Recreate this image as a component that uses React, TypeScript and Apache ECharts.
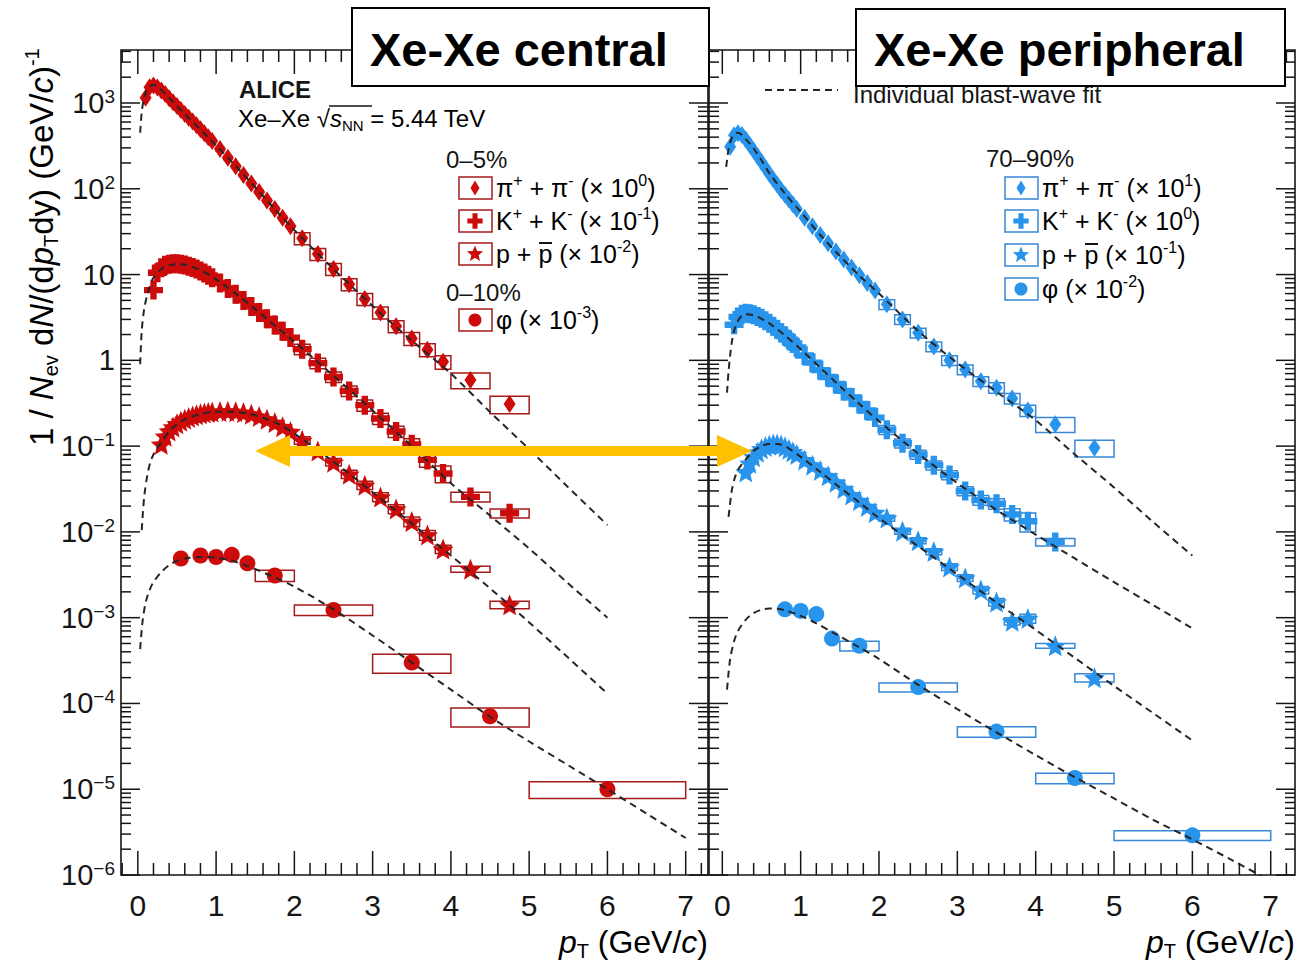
import React, { useEffect, useRef } from "react";
import * as echarts from "echarts";

// Identified-hadron pT spectra in Xe–Xe collisions at 5.44 TeV (scaled as in legend).
// Rows: [pT (GeV/c), 1/Nev dN/(dpT dy), relative systematic uncertainty]

// ---- central (0–5 %, phi 0–10 %) ----
const PION_CENTRAL: number[][] = [
  [0.1, 1150, 0.04], [0.15, 1530, 0.04], [0.2, 1600, 0.04], [0.25, 1520, 0.04], [0.3, 1400, 0.04],
  [0.35, 1270, 0.04], [0.4, 1140, 0.04], [0.45, 1020, 0.04], [0.5, 920, 0.04], [0.55, 830, 0.04],
  [0.6, 745, 0.04], [0.65, 675, 0.04], [0.7, 610, 0.04], [0.75, 550, 0.04], [0.8, 495, 0.04],
  [0.85, 445, 0.04], [0.9, 400, 0.04], [0.95, 360, 0.04], [1.05, 290, 0.05], [1.15, 230, 0.05],
  [1.25, 183, 0.05], [1.35, 145, 0.05], [1.45, 115, 0.05], [1.55, 92, 0.05], [1.65, 73, 0.05],
  [1.75, 58, 0.05], [1.85, 46, 0.05], [1.95, 36.5, 0.05], [2.1, 26.5, 0.16], [2.3, 17.4, 0.16],
  [2.5, 11.6, 0.16], [2.7, 7.7, 0.16], [2.9, 5.2, 0.16], [3.1, 3.6, 0.16], [3.3, 2.5, 0.16],
  [3.5, 1.8, 0.17], [3.7, 1.33, 0.17], [3.9, 0.96, 0.18], [4.25, 0.59, 0.21], [4.75, 0.31, 0.23],
];
const KAON_CENTRAL: number[][] = [
  [0.2, 6.6, 0.06], [0.25, 10.5, 0.05], [0.3, 12.0, 0.04], [0.35, 12.8, 0.04], [0.4, 13.2, 0.04],
  [0.45, 13.4, 0.04], [0.5, 13.4, 0.04], [0.55, 13.2, 0.04], [0.6, 12.9, 0.04], [0.65, 12.5, 0.04],
  [0.7, 12.1, 0.04], [0.75, 11.6, 0.04], [0.8, 11.0, 0.04], [0.85, 10.4, 0.04], [0.9, 9.8, 0.04],
  [0.95, 9.2, 0.04], [1.05, 8.0, 0.05], [1.15, 6.9, 0.05], [1.25, 5.9, 0.05], [1.35, 5.0, 0.05],
  [1.45, 4.25, 0.05], [1.55, 3.6, 0.05], [1.65, 3.05, 0.05], [1.75, 2.58, 0.05], [1.85, 2.18, 0.05],
  [1.95, 1.84, 0.05], [2.1, 1.35, 0.14], [2.3, 0.93, 0.14], [2.5, 0.64, 0.14], [2.7, 0.44, 0.14],
  [2.9, 0.3, 0.15], [3.1, 0.21, 0.15], [3.3, 0.148, 0.15], [3.5, 0.105, 0.16], [3.7, 0.069, 0.18],
  [3.9, 0.048, 0.22], [4.25, 0.0256, 0.13], [4.75, 0.0165, 0.12],
];
const PROTON_CENTRAL: number[][] = [
  [0.3, 0.105, 0.1], [0.35, 0.13, 0.05], [0.4, 0.15, 0.04], [0.45, 0.167, 0.04], [0.5, 0.182, 0.04],
  [0.55, 0.195, 0.04], [0.6, 0.206, 0.04], [0.65, 0.216, 0.04], [0.7, 0.225, 0.04], [0.75, 0.232, 0.04],
  [0.8, 0.238, 0.04], [0.85, 0.243, 0.04], [0.9, 0.247, 0.04], [0.95, 0.25, 0.04], [1.05, 0.254, 0.05],
  [1.15, 0.255, 0.05], [1.25, 0.252, 0.05], [1.35, 0.246, 0.05], [1.45, 0.236, 0.05], [1.55, 0.222, 0.05],
  [1.65, 0.206, 0.05], [1.75, 0.188, 0.05], [1.85, 0.168, 0.05], [1.95, 0.148, 0.05], [2.1, 0.117, 0.1],
  [2.3, 0.088, 0.1], [2.5, 0.065, 0.1], [2.7, 0.047, 0.11], [2.9, 0.035, 0.11], [3.1, 0.0255, 0.12],
  [3.3, 0.0185, 0.12], [3.5, 0.0132, 0.13], [3.7, 0.0092, 0.13], [3.9, 0.0063, 0.11],
  [4.25, 0.00367, 0.08], [4.75, 0.00141, 0.1],
];
// phi rows: [pT, yield, half bin width, relative systematic uncertainty]
const PHI_CENTRAL: number[][] = [
  [0.55, 0.0049, 0.06, 0.05], [0.8, 0.0053, 0.06, 0.05], [1.0, 0.0051, 0.06, 0.05],
  [1.2, 0.0054, 0.06, 0.05], [1.4, 0.0043, 0.06, 0.05], [1.75, 0.0031, 0.25, 0.15],
  [2.5, 0.00123, 0.5, 0.14], [3.5, 0.0003, 0.5, 0.25], [4.5, 7.1e-5, 0.5, 0.25], [6.0, 1.0e-5, 1.0, 0.22],
];

// ---- peripheral (70–90 %) ----
const PION_PERIPH: number[][] = [
  [0.1, 310, 0.04], [0.15, 420, 0.04], [0.2, 445, 0.04], [0.25, 425, 0.04], [0.3, 375, 0.04],
  [0.35, 325, 0.04], [0.4, 280, 0.04], [0.45, 240, 0.04], [0.5, 205, 0.04], [0.55, 175, 0.04],
  [0.6, 150, 0.04], [0.65, 129, 0.04], [0.7, 112, 0.04], [0.75, 97, 0.04], [0.8, 85, 0.04],
  [0.85, 75, 0.04], [0.9, 66, 0.04], [0.95, 58, 0.04], [1.05, 46, 0.05], [1.15, 36.5, 0.05],
  [1.25, 29, 0.05], [1.35, 23.2, 0.05], [1.45, 18.6, 0.05], [1.55, 15, 0.05], [1.65, 12.1, 0.05],
  [1.75, 9.8, 0.05], [1.85, 8.0, 0.05], [1.95, 6.5, 0.05], [2.1, 4.5, 0.13], [2.3, 3.0, 0.13],
  [2.5, 2.1, 0.13], [2.7, 1.45, 0.13], [2.9, 1.0, 0.13], [3.1, 0.78, 0.13], [3.3, 0.57, 0.13],
  [3.5, 0.48, 0.14], [3.7, 0.36, 0.14], [3.9, 0.26, 0.15], [4.25, 0.18, 0.2], [4.75, 0.096, 0.22],
];
const KAON_PERIPH: number[][] = [
  [0.15, 2.6, 0.05], [0.2, 3.2, 0.04], [0.25, 3.45, 0.04], [0.3, 3.55, 0.04], [0.35, 3.5, 0.04],
  [0.4, 3.4, 0.04], [0.45, 3.25, 0.04], [0.5, 3.1, 0.04], [0.55, 2.9, 0.04], [0.6, 2.7, 0.04],
  [0.65, 2.5, 0.04], [0.7, 2.3, 0.04], [0.75, 2.1, 0.04], [0.8, 1.92, 0.04], [0.85, 1.74, 0.04],
  [0.9, 1.57, 0.04], [0.95, 1.41, 0.04], [1.05, 1.14, 0.05], [1.15, 0.94, 0.05], [1.25, 0.77, 0.05],
  [1.35, 0.64, 0.05], [1.45, 0.53, 0.05], [1.55, 0.44, 0.05], [1.65, 0.37, 0.05], [1.75, 0.31, 0.05],
  [1.85, 0.26, 0.05], [1.95, 0.215, 0.05], [2.1, 0.155, 0.12], [2.3, 0.108, 0.12], [2.5, 0.08, 0.12],
  [2.7, 0.06, 0.12], [2.9, 0.046, 0.12], [3.1, 0.03, 0.12], [3.3, 0.0235, 0.13], [3.5, 0.0213, 0.14],
  [3.7, 0.016, 0.16], [3.9, 0.0133, 0.25], [4.25, 0.0076, 0.1],
];
const PROTON_PERIPH: number[][] = [
  [0.3, 0.05, 0.08], [0.35, 0.063, 0.05], [0.4, 0.075, 0.04], [0.45, 0.085, 0.04], [0.5, 0.093, 0.04],
  [0.55, 0.099, 0.04], [0.6, 0.103, 0.04], [0.65, 0.106, 0.04], [0.7, 0.106, 0.04], [0.75, 0.103, 0.04],
  [0.8, 0.098, 0.04], [0.85, 0.092, 0.04], [0.9, 0.086, 0.04], [0.95, 0.08, 0.04], [1.05, 0.069, 0.05],
  [1.15, 0.06, 0.05], [1.25, 0.052, 0.05], [1.35, 0.045, 0.05], [1.45, 0.038, 0.05], [1.55, 0.032, 0.05],
  [1.65, 0.027, 0.05], [1.75, 0.0232, 0.05], [1.85, 0.0198, 0.05], [1.95, 0.0168, 0.05], [2.1, 0.0145, 0.08],
  [2.3, 0.0102, 0.08], [2.5, 0.0079, 0.08], [2.7, 0.0059, 0.08], [2.9, 0.0039, 0.09], [3.1, 0.0029, 0.09],
  [3.3, 0.0021, 0.1], [3.5, 0.00152, 0.1], [3.7, 0.00091, 0.1], [3.9, 0.00098, 0.12],
  [4.25, 0.00047, 0.065], [4.75, 0.0002, 0.11],
];
const PHI_PERIPH: number[][] = [
  [0.8, 1.25e-3, 0.06, 0.05], [1.0, 1.2e-3, 0.06, 0.05], [1.2, 1.1e-3, 0.06, 0.05],
  [1.4, 5.7e-4, 0.06, 0.08], [1.75, 4.7e-4, 0.25, 0.13], [2.5, 1.55e-4, 0.5, 0.12],
  [3.5, 4.7e-5, 0.5, 0.14], [4.5, 1.35e-5, 0.5, 0.14], [6.0, 2.9e-6, 1.0, 0.13],
];

// ---- individual blast-wave fits: [pT, yield] ----
const FIT_PION_CENTRAL: number[][] = [
  [0.03, 450], [0.05, 780], [0.08, 1150], [0.12, 1450], [0.16, 1580], [0.2, 1620], [0.3, 1420],
  [0.4, 1150], [0.5, 920], [0.6, 740], [0.8, 490], [1.0, 320], [1.25, 185], [1.5, 104], [1.75, 58],
  [2.0, 33], [2.5, 11.6], [3.0, 4.3], [3.5, 1.7], [4.0, 0.7], [4.5, 0.25], [5.0, 0.092], [5.5, 0.033], [6.0, 0.012],
];
const FIT_KAON_CENTRAL: number[][] = [
  [0.03, 0.9], [0.05, 2.2], [0.08, 3.9], [0.12, 5.8], [0.16, 7.6], [0.2, 9.2], [0.3, 11.6], [0.4, 12.8],
  [0.5, 13.2], [0.6, 13.0], [0.8, 11.3], [1.0, 8.8], [1.25, 6.0], [1.5, 3.95], [1.75, 2.55], [2.0, 1.65],
  [2.5, 0.66], [3.0, 0.26], [3.5, 0.1], [4.0, 0.037], [4.5, 0.0155], [5.0, 0.0064], [5.5, 0.0025], [6.0, 0.001],
];
const FIT_PROTON_CENTRAL: number[][] = [
  [0.05, 0.0105], [0.08, 0.025], [0.12, 0.045], [0.16, 0.065], [0.2, 0.08], [0.25, 0.095], [0.3, 0.11],
  [0.4, 0.148], [0.5, 0.18], [0.6, 0.205], [0.8, 0.237], [1.0, 0.252], [1.2, 0.252], [1.4, 0.24],
  [1.6, 0.214], [1.8, 0.18], [2.0, 0.14], [2.5, 0.066], [3.0, 0.029], [3.5, 0.0125], [4.0, 0.0053],
  [4.5, 0.0022], [5.0, 0.00088], [5.5, 0.00034], [6.0, 0.00013],
];
const FIT_PHI_CENTRAL: number[][] = [
  [0.03, 4.3e-4], [0.06, 9e-4], [0.1, 1.5e-3], [0.15, 2.1e-3], [0.2, 2.6e-3], [0.3, 3.4e-3],
  [0.4, 4.1e-3], [0.5, 4.6e-3], [0.6, 4.9e-3], [0.8, 5.1e-3], [1.0, 5.0e-3], [1.2, 4.6e-3],
  [1.4, 4.0e-3], [1.75, 2.95e-3], [2.0, 2.3e-3], [2.5, 1.25e-3], [3.0, 6.2e-4], [3.5, 3.0e-4],
  [4.0, 1.45e-4], [4.5, 7.0e-5], [5.0, 3.6e-5], [5.5, 1.9e-5], [6.0, 1.0e-5], [6.5, 5.2e-6], [7.0, 2.7e-6],
];
const FIT_PION_PERIPH: number[][] = [
  [0.05, 180], [0.08, 290], [0.12, 390], [0.16, 440], [0.2, 450], [0.25, 425], [0.3, 380], [0.4, 295],
  [0.5, 215], [0.6, 152], [0.8, 88], [1.0, 54], [1.25, 29], [1.5, 16.5], [1.75, 9.7], [2.0, 6.0],
  [2.5, 2.2], [3.0, 0.93], [3.5, 0.43], [4.0, 0.2], [4.5, 0.08], [5.0, 0.033], [5.5, 0.013], [6.0, 0.0053],
];
const FIT_KAON_PERIPH: number[][] = [
  [0.06, 0.42], [0.08, 0.75], [0.1, 1.15], [0.12, 1.6], [0.15, 2.2], [0.2, 2.9], [0.25, 3.3], [0.3, 3.45],
  [0.4, 3.35], [0.5, 3.05], [0.6, 2.7], [0.8, 1.95], [1.0, 1.35], [1.25, 0.82], [1.5, 0.5], [1.75, 0.31],
  [2.0, 0.195], [2.5, 0.082], [3.0, 0.037], [3.5, 0.018], [4.0, 0.0093], [4.5, 0.0049], [5.0, 0.0026],
  [5.5, 0.0014], [6.0, 0.00075],
];
const FIT_PROTON_PERIPH: number[][] = [
  [0.08, 0.015], [0.12, 0.03], [0.16, 0.043], [0.2, 0.053], [0.3, 0.07], [0.4, 0.088], [0.5, 0.1],
  [0.6, 0.106], [0.7, 0.106], [0.8, 0.1], [1.0, 0.075], [1.25, 0.05], [1.5, 0.033], [1.75, 0.022],
  [2.0, 0.0145], [2.5, 0.0068], [3.0, 0.0032], [3.5, 0.0015], [4.0, 0.00072], [4.5, 0.00034],
  [5.0, 0.00016], [5.5, 0.000077], [6.0, 0.000037],
];
const FIT_PHI_PERIPH: number[][] = [
  [0.06, 1.45e-4], [0.1, 3.3e-4], [0.15, 5.3e-4], [0.2, 7e-4], [0.3, 9.5e-4], [0.4, 1.13e-3],
  [0.5, 1.24e-3], [0.6, 1.28e-3], [0.7, 1.27e-3], [0.8, 1.22e-3], [1.0, 1.05e-3], [1.2, 8.6e-4],
  [1.4, 6.8e-4], [1.75, 4.5e-4], [2.0, 3.3e-4], [2.5, 1.65e-4], [3.0, 8.6e-5], [3.5, 4.6e-5],
  [4.0, 2.5e-5], [4.5, 1.38e-5], [5.0, 7.8e-6], [5.5, 4.4e-6], [6.0, 2.6e-6], [6.5, 1.5e-6], [7.0, 8.5e-7],
];

// ---- axes ----
const X_RANGE_LEFT = [-0.215, 7.285];
const X_RANGE_RIGHT = [-0.17, 7.31];
const Y_MIN = 1e-6;
const Y_MAX = Math.pow(10, 3.618);
const X_LABELS = [0, 1, 2, 3, 4, 5, 6, 7];
const Y_DECADES = [-6, -5, -4, -3, -2, -1, 0, 1, 2, 3];

const FONT = "'Liberation Sans', Arial, Helvetica, sans-serif";
const INK = "#151515";
const RED = "#cc0b0b";
const RED_BOX = "#a51a1a";
const BLUE = "#2994ec";
const BLUE_BOX = "#3788d6";
const FIT_INK = "#262626";
const ORANGE = "#ffc000";

// marker outlines (unit coordinates)
const CROSS_PTS = [[-3, -9], [3, -9], [3, -3], [9, -3], [9, 3], [3, 3], [3, 9], [-3, 9], [-3, 3], [-9, 3], [-9, -3], [-3, -3]];
const STAR_PTS = [[0, -10], [2.6, -3.6], [9.51, -3.09], [4.3, 1.4], [5.88, 8.09], [0, 4.5], [-5.88, 8.09], [-4.3, 1.4], [-9.51, -3.09], [-2.6, -3.6]];
const DIAMOND_PTS = [[0, -7.5], [4.5, 0], [0, 7.5], [-4.5, 0]];
const toPath = (pts: number[][]) => "path://M" + pts.map((p) => p[0] + "," + p[1]).join("L") + "Z";

const binHalfWidth = (pt: number) => (pt < 1 ? 0.025 : pt < 2 ? 0.05 : pt < 4 ? 0.1 : 0.25);

type Species = { data: number[][]; fit: number[][]; marker: string; size: number | number[]; phi?: boolean };

function boxSeries(rows: number[][], axis: number, color: string, phi: boolean) {
  return {
    type: "custom",
    xAxisIndex: axis,
    yAxisIndex: axis,
    silent: true,
    z: 3,
    encode: { x: 0, y: 1 },
    data: rows.map((r) => (phi ? [r[0], r[1], r[2], r[3]] : [r[0], r[1], binHalfWidth(r[0]), r[2]])),
    renderItem: (_p: any, api: any) => {
      const x = api.value(0), y = api.value(1), hw = api.value(2), s = api.value(3);
      const a = api.coord([x - hw, y * (1 + s)]);
      const b = api.coord([x + hw, y * (1 - s)]);
      return {
        type: "rect",
        shape: { x: a[0], y: a[1], width: b[0] - a[0], height: b[1] - a[1] },
        style: { fill: "none", stroke: color, lineWidth: 1.5 },
      };
    },
  };
}

function markerSeries(rows: number[][], axis: number, color: string, symbol: string, size: any) {
  return {
    type: "scatter",
    xAxisIndex: axis,
    yAxisIndex: axis,
    silent: true,
    z: 4,
    symbol,
    symbolSize: size,
    itemStyle: { color, opacity: 1 },
    data: rows.map((r) => [r[0], r[1]]),
  };
}

function fitSeries(rows: number[][], axis: number) {
  return {
    type: "line",
    xAxisIndex: axis,
    yAxisIndex: axis,
    silent: true,
    z: 6,
    smooth: 0.3,
    showSymbol: false,
    symbol: "none",
    clip: true,
    lineStyle: { color: FIT_INK, width: 2, type: [7, 5] },
    data: rows,
  };
}

function frameTicks(axis: number, xr: number[]) {
  return {
    type: "custom",
    xAxisIndex: axis,
    yAxisIndex: axis,
    silent: true,
    z: 8,
    data: [[1, 1]],
    renderItem: (params: any, api: any) => {
      const cs = params.coordSys;
      const L = cs.x, T = cs.y, R = cs.x + cs.width, B = cs.y + cs.height;
      const kids: any[] = [];
      const seg = (x1: number, y1: number, x2: number, y2: number) =>
        kids.push({ type: "line", shape: { x1, y1, x2, y2 }, style: { stroke: INK, lineWidth: 1.5 } });
      for (let i = -1; i <= 8; i++) {
        for (let k = 0; k < 5; k++) {
          const v = i + k * 0.2;
          if (v <= xr[0] + 0.01 || v >= xr[1] - 0.01) continue;
          const px = api.coord([v, 1])[0];
          const len = k === 0 ? 24 : 12;
          seg(px, B, px, B - len);
          seg(px, T, px, T + len);
        }
      }
      for (const e of Y_DECADES) {
        for (let m = 1; m <= 9; m++) {
          const v = m * Math.pow(10, e);
          if (v >= Y_MAX) continue;
          const py = api.coord([1, v])[1];
          const len = m === 1 ? 19 : 10;
          seg(L, py, L + len, py);
          seg(R, py, R - len, py);
        }
      }
      return { type: "group", children: kids };
    },
  };
}

const yLabel = (v: number) => {
  const l = Math.log10(v);
  const e = Math.round(l);
  if (Math.abs(l - e) > 1e-6) return "";
  if (e === 0) return "{b|1}";
  if (e === 1) return "{b|10}";
  return "{b|10}{e|" + (e < 0 ? "\u2212" + -e : String(e)) + "}";
};

const richText = (size: number) => ({
  t: { fontSize: size, fontFamily: FONT, color: INK, lineHeight: size + 6 },
  i: { fontSize: size, fontFamily: FONT, color: INK, fontStyle: "italic", lineHeight: size + 6 },
  s: { fontSize: Math.round(size * 0.62), fontFamily: FONT, color: INK, verticalAlign: "top", lineHeight: Math.round(size * 0.62) },
  d: { fontSize: Math.round(size * 0.62), fontFamily: FONT, color: INK, verticalAlign: "bottom", lineHeight: Math.round(size * 0.62) },
});

function legendRow(x: number, y: number, boxColor: string, fill: string, shape: string, label: string, barAt?: number) {
  const cx = x + 16, w = 33, h = 22;
  const items: any[] = [
    { type: "rect", shape: { x, y: y - h / 2, width: w, height: h }, style: { fill: "none", stroke: boxColor, lineWidth: 1.5 } },
  ];
  const poly = (pts: number[][], sc: number) =>
    items.push({ type: "polygon", shape: { points: pts.map((p) => [cx + p[0] * sc, y + p[1] * sc]) }, style: { fill } });
  if (shape === "diamond") poly(DIAMOND_PTS, 1);
  if (shape === "cross") poly(CROSS_PTS, 0.85);
  if (shape === "star") poly(STAR_PTS, 0.85);
  if (shape === "circle") items.push({ type: "circle", shape: { cx, cy: y, r: 6.5 }, style: { fill } });
  items.push({
    type: "text",
    x: x + w + 4,
    y,
    style: { text: label, rich: richText(25), verticalAlign: "middle", align: "left" },
  });
  if (barAt !== undefined) {
    items.push({ type: "line", shape: { x1: x + w + 4 + barAt, y1: y - 11, x2: x + w + 4 + barAt + 13, y2: y - 11 }, style: { stroke: INK, lineWidth: 2 } });
  }
  return items;
}

function buildOption() {
  const panels = [
    {
      xr: X_RANGE_LEFT, color: RED, box: RED_BOX,
      species: [
        { data: PION_CENTRAL, fit: FIT_PION_CENTRAL, marker: toPath(DIAMOND_PTS), size: [12, 18] },
        { data: KAON_CENTRAL, fit: FIT_KAON_CENTRAL, marker: toPath(CROSS_PTS), size: 19 },
        { data: PROTON_CENTRAL, fit: FIT_PROTON_CENTRAL, marker: toPath(STAR_PTS), size: 21 },
        { data: PHI_CENTRAL, fit: FIT_PHI_CENTRAL, marker: "circle", size: 16, phi: true },
      ] as Species[],
    },
    {
      xr: X_RANGE_RIGHT, color: BLUE, box: BLUE_BOX,
      species: [
        { data: PION_PERIPH, fit: FIT_PION_PERIPH, marker: toPath(DIAMOND_PTS), size: [12, 18] },
        { data: KAON_PERIPH, fit: FIT_KAON_PERIPH, marker: toPath(CROSS_PTS), size: 19 },
        { data: PROTON_PERIPH, fit: FIT_PROTON_PERIPH, marker: toPath(STAR_PTS), size: 21 },
        { data: PHI_PERIPH, fit: FIT_PHI_PERIPH, marker: "circle", size: 16, phi: true },
      ] as Species[],
    },
  ];

  const series: any[] = [];
  panels.forEach((p, ai) => {
    p.species.forEach((s) => {
      series.push(boxSeries(s.data, ai, p.box, !!s.phi));
      series.push(markerSeries(s.data, ai, p.color, s.marker, s.size));
      series.push(fitSeries(s.fit, ai));
    });
    series.push(frameTicks(ai, p.xr));
  });

  const grid = [
    { left: 121, top: 50, width: 587, height: 825, show: true, borderColor: INK, borderWidth: 1.6, backgroundColor: "transparent" },
    { left: 709, top: 50, width: 586, height: 825, show: true, borderColor: INK, borderWidth: 1.6, backgroundColor: "transparent" },
  ];
  const xAxis = panels.map((p, i) => ({
    type: "value",
    gridIndex: i,
    min: p.xr[0],
    max: p.xr[1],
    axisLine: { show: false },
    axisTick: { show: false },
    splitLine: { show: false },
    axisLabel: { customValues: X_LABELS, fontSize: 30, fontFamily: FONT, color: INK, margin: 15 },
  }));
  const yAxis = panels.map((_p, i) => ({
    type: "log",
    logBase: 10,
    gridIndex: i,
    min: Y_MIN,
    max: Y_MAX,
    axisLine: { show: false },
    axisTick: { show: false },
    splitLine: { show: false },
    minorTick: { show: false },
    axisLabel: {
      show: i === 0,
      formatter: yLabel,
      margin: 6,
      showMaxLabel: false,
      rich: {
        b: { fontSize: 29, fontFamily: FONT, color: INK, lineHeight: 32 },
        e: { fontSize: 19, fontFamily: FONT, color: INK, lineHeight: 19, verticalAlign: "top" },
      },
    },
  }));

  const graphic: any[] = [
    // y-axis title
    {
      type: "text", x: 41, y: 446, rotation: Math.PI / 2, z: 20,
      style: {
        text: "{t|1 / }{i|N}{d|ev}{t| d}{i|N}{t|/(d}{i|p}{d|T}{t|dy) (GeV/}{i|c}{t|)}{s|-1}",
        rich: richText(33), align: "left", verticalAlign: "middle",
      },
    },
    // x-axis titles
    ...[708, 1295].map((xr) => ({
      type: "text", x: xr, y: 942, z: 20,
      style: { text: "{i|p}{d|T}{t| (GeV/}{i|c}{t|)}", rich: richText(32), align: "right", verticalAlign: "middle" },
    })),
    // experiment label
    { type: "text", x: 239, y: 89, z: 20, style: { text: "ALICE", font: `bold 24px ${FONT}`, fill: INK, verticalAlign: "middle" } },
    {
      type: "text", x: 238, y: 118, z: 20,
      style: { text: "{t|Xe\u2013Xe \u221A}{i|s}{d|NN}{t| = 5.44 TeV}", rich: richText(24), verticalAlign: "middle" },
    },
    { type: "line", z: 20, shape: { x1: 329, y1: 106, x2: 372, y2: 106 }, style: { stroke: INK, lineWidth: 1.5 } },
    // centrality labels and legend entries
    { type: "text", x: 446, y: 159, z: 20, style: { text: "0\u20135%", font: `24px ${FONT}`, fill: INK, verticalAlign: "middle" } },
    { type: "text", x: 446, y: 292, z: 20, style: { text: "0\u201310%", font: `24px ${FONT}`, fill: INK, verticalAlign: "middle" } },
    { type: "text", x: 986, y: 158, z: 20, style: { text: "70\u201390%", font: `24px ${FONT}`, fill: INK, verticalAlign: "middle" } },
    ...legendRow(459, 188, RED_BOX, RED, "diamond", "{t|\u03C0}{s|+}{t| + \u03C0}{s|-}{t| (\u00D7 10}{s|0}{t|)}"),
    ...legendRow(459, 221, RED_BOX, RED, "cross", "{t|K}{s|+}{t| + K}{s|-}{t| (\u00D7 10}{s|-1}{t|)}"),
    ...legendRow(459, 254, RED_BOX, RED, "star", "{t|p + p (\u00D7 10}{s|-2}{t|)}", 43),
    ...legendRow(459, 320, RED_BOX, RED, "circle", "{t|\u03C6 (\u00D7 10}{s|-3}{t|)}"),
    ...legendRow(1005, 188, BLUE_BOX, BLUE, "diamond", "{t|\u03C0}{s|+}{t| + \u03C0}{s|-}{t| (\u00D7 10}{s|1}{t|)}"),
    ...legendRow(1005, 221, BLUE_BOX, BLUE, "cross", "{t|K}{s|+}{t| + K}{s|-}{t| (\u00D7 10}{s|0}{t|)}"),
    ...legendRow(1005, 255, BLUE_BOX, BLUE, "star", "{t|p + p (\u00D7 10}{s|-1}{t|)}", 43),
    ...legendRow(1005, 289, BLUE_BOX, BLUE, "circle", "{t|\u03C6 (\u00D7 10}{s|-2}{t|)}"),
    // fit legend
    { type: "line", z: 20, shape: { x1: 765, y1: 90, x2: 838, y2: 90 }, style: { stroke: FIT_INK, lineWidth: 2, lineDash: [7, 5] } },
    { type: "text", x: 853, y: 94, z: 20, style: { text: "Individual blast-wave fit", font: `24px ${FONT}`, fill: INK, verticalAlign: "middle" } },
    // double arrow between panels
    {
      type: "polygon", z: 40,
      shape: { points: [[255, 451], [290, 435], [290, 446], [717, 446], [717, 435], [752, 451], [717, 467], [717, 456], [290, 456], [290, 467]] },
      style: { fill: ORANGE },
    },
    // panel titles
    { type: "rect", z: 50, shape: { x: 352, y: 8, width: 357, height: 78 }, style: { fill: "#fff", stroke: "#000", lineWidth: 2 } },
    { type: "text", z: 51, x: 370, y: 49, style: { text: "Xe-Xe central", font: `bold 47px ${FONT}`, fill: "#000", verticalAlign: "middle" } },
    { type: "rect", z: 50, shape: { x: 856, y: 9, width: 429, height: 77 }, style: { fill: "#fff", stroke: "#000", lineWidth: 2 } },
    { type: "text", z: 51, x: 874, y: 49, style: { text: "Xe-Xe peripheral", font: `bold 47px ${FONT}`, fill: "#000", verticalAlign: "middle" } },
  ];

  return {
    animation: false,
    backgroundColor: "#fff",
    textStyle: { fontFamily: FONT },
    grid,
    xAxis,
    yAxis,
    series,
    graphic,
  };
}

export default function App() {
  const ref = useRef<HTMLDivElement>(null);
  useEffect(() => {
    if (!ref.current) return;
    const chart = echarts.init(ref.current, null, { renderer: "svg" });
    chart.setOption(buildOption() as any);
    return () => chart.dispose();
  }, []);
  return (
    <div
      ref={ref}
      style={{ position: "absolute", left: 0, top: 0, width: 1306, height: 968, background: "#fff" }}
    />
  );
}
